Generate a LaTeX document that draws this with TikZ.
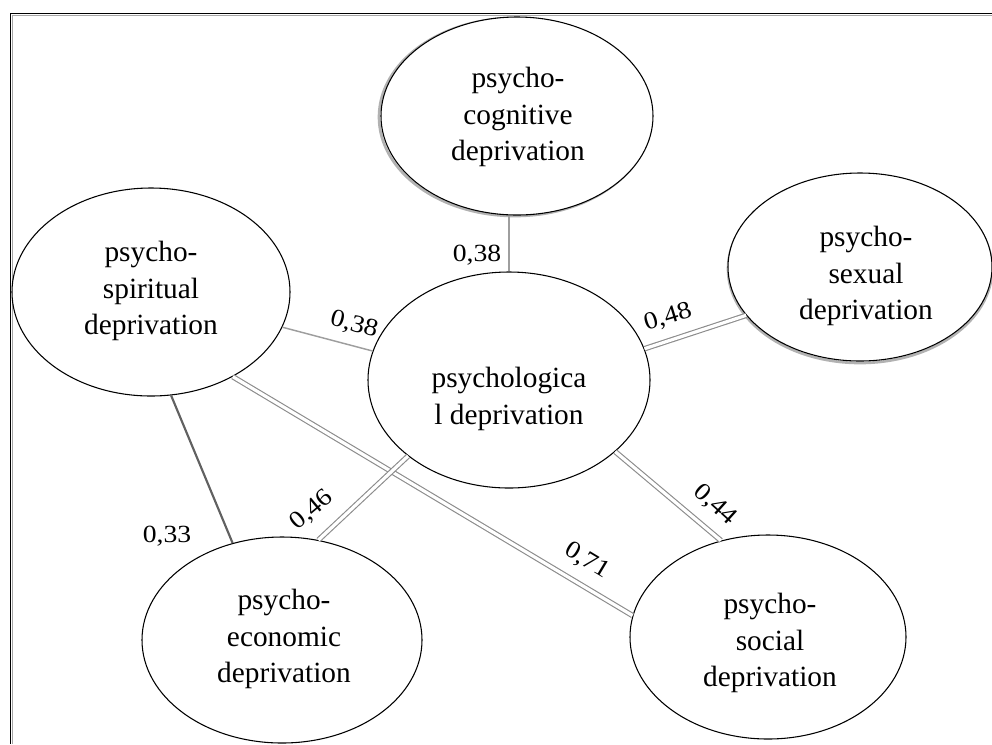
\documentclass[tikz,border=0pt]{standalone}
\usepackage{fontspec}
\setmainfont{Liberation Serif}
\usetikzlibrary{shapes.geometric,calc}
\begin{document}
\begin{tikzpicture}[x=0.75pt,y=-0.75pt,
  ell/.style={ellipse,draw=black,line width=0.8pt,fill=white,inner sep=0pt},
  txt/.style={align=center,font=\fontsize{22}{27.5}\selectfont,inner sep=0pt},
  lbl/.style={font=\fontsize{18.5}{20}\selectfont,text=black,inner sep=0pt},
  one/.style={draw=black!38,line width=1.1pt},
  two/.style={draw=black!45,line width=0.85pt,double=white,double distance=2.4pt},
  dark/.style={draw=black!62,line width=1.6pt},
  shade/.style={draw=black!30,line width=2pt}]
\useasboundingbox (0,0) rectangle (992,744);
% frame
\draw[black!35,line width=1pt] (992,15.5) -- (12.5,15.5) -- (12.5,744);
\draw[black,line width=1.2pt] (992,13.5) -- (10.5,13.5) -- (10.5,744);
% shadows
\path[shade] (515,117) ellipse [x radius=102pt, y radius=74.25pt];
\path[shade] (860,269) ellipse [x radius=99pt, y radius=70.5pt];
% ellipses
\node[ell,minimum width=204pt,minimum height=148.5pt] (cog) at (517,116) {};
\node[ell,minimum width=211.5pt,minimum height=162pt] (psy) at (509,380) {};
\node[ell,minimum width=208.5pt,minimum height=156pt] (spi) at (151,292) {};
\node[ell,minimum width=198pt,minimum height=141pt] (sex) at (860,267) {};
\node[ell,minimum width=210pt,minimum height=154.5pt] (eco) at (282,640) {};
\node[ell,minimum width=207pt,minimum height=153pt] (soc) at (768,637) {};
% texts
\node[txt] (tcog) at (518,117) {psycho-\\cognitive\\deprivation};
\node[txt] (tpsy) at (509,399) {psychologica\\l deprivation};
\node[txt] (tspi) at (151,291) {psycho-\\spiritual\\deprivation};
\node[txt] (tsex) at (866,276) {psycho-\\sexual\\deprivation};
\node[txt] (teco) at (284,639) {psycho-\\economic\\deprivation};
\node[txt] (tsoc) at (770,643) {psycho-\\social\\deprivation};
% connectors
\draw[one] (psy.north) -- (psy.north |- cog.south);
\draw[one] (spi.-15) -- (psy.168);
\draw[two] (psy.13) -- (sex.-157);
\draw[dark] (spi.-79) -- (eco.117);
\draw[two] (spi.-46) -- (soc.171);
\draw[two] (psy.-143) -- (eco.70);
\draw[two] (psy.-34) -- (soc.116);
% labels
\node[lbl] (l1) at (477,255) {\scalebox{1.12}[1]{0,38}};
\node[lbl,rotate=-15] (l2) at (354,325) {\scalebox{1.12}[1]{0,38}};
\node[lbl,rotate=17] (l3) at (668,317) {\scalebox{1.12}[1]{0,48}};
\node[lbl] (l4) at (167,536) {\scalebox{1.12}[1]{0,33}};
\node[lbl,rotate=40] (l5) at (312,510) {\scalebox{1.12}[1]{0,46}};
\node[lbl,rotate=-31] (l6) at (587,561) {\scalebox{1.12}[1]{0,71}};
\node[lbl,rotate=-42] (l7) at (715,505) {\scalebox{1.12}[1]{0,44}};
\end{tikzpicture}
\end{document}
